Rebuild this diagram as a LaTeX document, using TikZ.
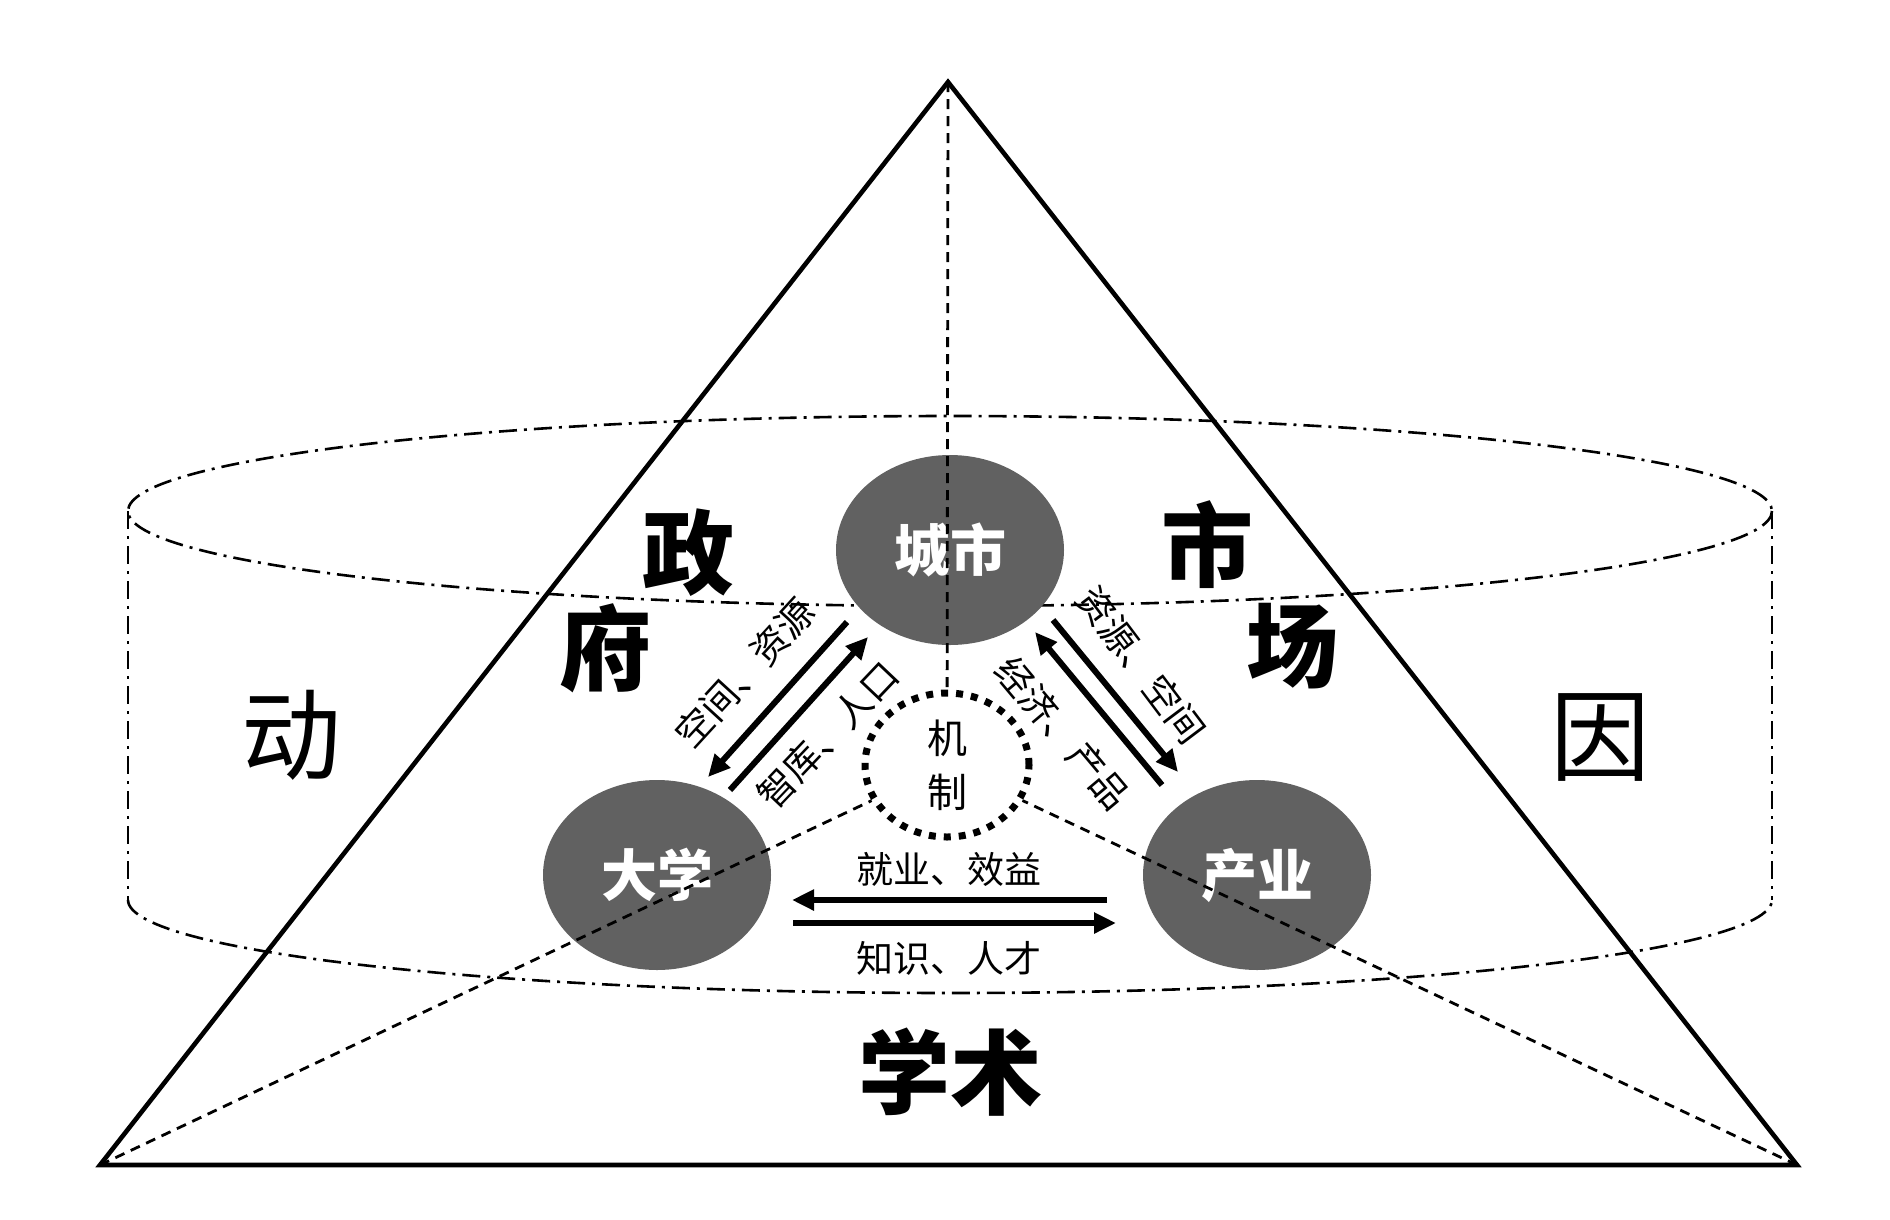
\documentclass[tikz,border=0pt]{standalone}
\usepackage{fontspec}
\newfontfamily\cjk{Noto Sans CJK SC}
\usetikzlibrary{arrows.meta,shapes.geometric,calc}
\begin{document}
\begin{tikzpicture}[x=1pt,y=-1pt,
  solidedge/.style={line width=4.6pt,line join=miter,line cap=round},
  hiddenedge/.style={line width=2.8pt,dash pattern=on 10pt off 7pt},
  dashdot/.style={line width=2.6pt,dash pattern=on 18pt off 7pt on 3pt off 7pt},
  hub/.style={ellipse,fill=black!62,minimum width=228pt,minimum height=190pt,inner sep=0pt,
    text=white,font=\cjk\bfseries\fontsize{56}{60}\selectfont},
  mechbox/.style={ellipse,draw=black,line width=7pt,dash pattern=on 7pt off 8pt,
    minimum width=164pt,minimum height=144pt,inner sep=0pt,align=center,
    font=\cjk\fontsize{40}{54}\selectfont},
  flow/.style={line width=6pt,-{Triangle[length=22pt,width=20pt]}},
  lab/.style={font=\cjk\fontsize{37}{40}\selectfont,inner sep=0pt},
  callig/.style={font=\cjk\bfseries\fontsize{92}{96}\selectfont,inner sep=0pt},
  bigchar/.style={font=\cjk\fontsize{100}{104}\selectfont,inner sep=0pt}
]
\fill[white] (0,0) rectangle (1890,1219);
\useasboundingbox (0,0) rectangle (1890,1219);

% pyramid corners
\coordinate (apex) at (948,82);
\coordinate (bl) at (100,1165);
\coordinate (br) at (1797,1165);

% cylinder
\draw[dashdot] (950,511) ellipse [x radius=822, y radius=95];
\draw[dashdot] plot[domain=180:360,samples=120] ({950+822*cos(\x)},{900-93*sin(\x)});
\coordinate (cyl1) at (128,511);
\coordinate (cyl2) at (128,900);
\coordinate (cyl3) at (1772,511);
\coordinate (cyl4) at (1772,900);
\draw[dashdot] (cyl1) -- (cyl2);
\draw[dashdot] (cyl3) -- (cyl4);

% pyramid outline
\draw[solidedge] (apex) -- (bl) -- (br) -- cycle;

% hubs
\node[hub] (city) at (950,550) {城市};
\node[hub] (uni) at (657,875) {大学};
\node[hub] (ind) at (1257,875) {产业};
\node[mechbox] (mech) at (947,765) {机\\制};

% hidden edges to the back vertex
\draw[hiddenedge] (apex) -- (mech);
\draw[hiddenedge] (bl) -- (mech);
\draw[hiddenedge] (br) -- (mech);

% flows
\coordinate (a1s) at (847,622); \coordinate (a1e) at (708,777);
\coordinate (a2s) at (730,790); \coordinate (a2e) at (868,637);
\coordinate (a3s) at (1053,620); \coordinate (a3e) at (1178,772);
\coordinate (a4s) at (1162,785); \coordinate (a4e) at (1035,632);
\coordinate (h1s) at (1107,900); \coordinate (h1e) at (792,900);
\coordinate (h2s) at (793,923); \coordinate (h2e) at (1116,923);
\draw[flow] (a1s) -- (a1e);
\draw[flow] (a2s) -- (a2e);
\draw[flow] (a3s) -- (a3e);
\draw[flow] (a4s) -- (a4e);
\draw[flow] (h1s) -- (h1e);
\draw[flow] (h2s) -- (h2e);

% flow labels
\node[lab,rotate=47.5] (l1) at (745,673) {空间、资源};
\node[lab,rotate=46.5] (l2) at (828,735) {智库、人口};
\node[lab,rotate=-53] (l3) at (1141,665) {资源、空间};
\node[lab,rotate=-50] (l4) at (1063,733) {经济、产品};
\node[lab] (l5) at (949,869) {就业、效益};
\node[lab] (l6) at (949,958) {知识、人才};

% forces
\node[callig] (zheng) at (688,553) {政};
\node[callig] (fu) at (605,648) {府};
\node[callig] (shi) at (1207,545) {市};
\node[callig] (chang) at (1292,646) {场};
\node[callig] (xueshu) at (950,1072) {学术};
\node[bigchar] (dong) at (291,735) {动};
\node[bigchar] (yin) at (1600,737) {因};
\end{tikzpicture}
\end{document}
